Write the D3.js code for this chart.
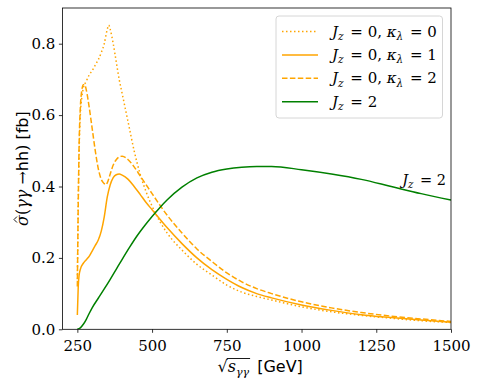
<!DOCTYPE html>
<html>
<head>
<meta charset="utf-8">
<script src="https://cdn.jsdelivr.net/npm/d3@7"></script>
<style>
  html, body { margin: 0; padding: 0; background: #fff; }
  svg { display: block; }
</style>
</head>
<body>
<div id="chart"></div>
<script>
// sqrt(s) grid [GeV] and cross sections [fb]
const sK0 = [250, 253, 256, 260, 265, 270, 280, 290, 300, 310, 320, 330, 340, 350, 355, 360, 370, 380, 390, 400, 420, 440, 460, 480, 500, 550, 600, 650, 700, 750, 800, 850, 900, 1000, 1100, 1200, 1300, 1400, 1500];
const sigK0 = [0.14, 0.35, 0.50, 0.60, 0.65, 0.675, 0.695, 0.713, 0.725, 0.74, 0.755, 0.775, 0.80, 0.84, 0.852, 0.84, 0.80, 0.75, 0.70, 0.66, 0.58, 0.50, 0.435, 0.385, 0.345, 0.27, 0.222, 0.182, 0.152, 0.124, 0.104, 0.092, 0.082, 0.063, 0.049, 0.039, 0.031, 0.024, 0.019];

const sK1 = [250, 253, 256, 260, 270, 280, 290, 300, 310, 320, 330, 340, 350, 360, 370, 380, 390, 400, 420, 440, 460, 480, 500, 550, 600, 650, 700, 750, 800, 850, 900, 1000, 1100, 1200, 1300, 1400, 1500];
const sigK1 = [0.04, 0.12, 0.152, 0.168, 0.185, 0.195, 0.205, 0.22, 0.235, 0.25, 0.275, 0.315, 0.37, 0.405, 0.425, 0.433, 0.435, 0.432, 0.42, 0.40, 0.378, 0.355, 0.335, 0.285, 0.24, 0.2, 0.167, 0.14, 0.117, 0.1, 0.088, 0.068, 0.053, 0.041, 0.033, 0.026, 0.02];

const sK2 = [250, 253, 256, 260, 265, 270, 275, 280, 290, 300, 310, 320, 330, 340, 345, 350, 360, 370, 380, 390, 400, 420, 440, 460, 480, 500, 550, 600, 650, 700, 750, 800, 850, 900, 1000, 1100, 1200, 1300, 1400, 1500];
const sigK2 = [0.12, 0.35, 0.52, 0.62, 0.67, 0.685, 0.685, 0.67, 0.62, 0.56, 0.50, 0.45, 0.42, 0.408, 0.405, 0.41, 0.435, 0.46, 0.475, 0.483, 0.485, 0.475, 0.455, 0.43, 0.405, 0.38, 0.32, 0.27, 0.225, 0.19, 0.158, 0.133, 0.114, 0.1, 0.077, 0.06, 0.047, 0.037, 0.029, 0.022];

const sJ2 = [250, 260, 270, 280, 290, 300, 320, 340, 360, 380, 400, 425, 450, 475, 500, 525, 550, 600, 650, 700, 750, 800, 850, 900, 1000, 1100, 1200, 1300, 1400, 1500];
const sigJ2 = [0.0, 0.004, 0.014, 0.028, 0.045, 0.061, 0.087, 0.113, 0.14, 0.168, 0.196, 0.23, 0.262, 0.29, 0.316, 0.34, 0.362, 0.398, 0.424, 0.44, 0.449, 0.454, 0.456, 0.456, 0.447, 0.435, 0.42, 0.40, 0.38, 0.362];

const xTicks = [250, 500, 750, 1000, 1250, 1500];
const yTicks = [0.0, 0.2, 0.4, 0.6, 0.8];

const series = [
  { s: sK0, v: sigK0, color: '#ffa500', dash: '1.5,2.5', lab: ['0', '0'] },
  { s: sK1, v: sigK1, color: '#ffa500', dash: null, lab: ['0', '1'] },
  { s: sK2, v: sigK2, color: '#ffa500', dash: '5.5,2.4', lab: ['0', '2'] },
  { s: sJ2, v: sigJ2, color: '#008000', dash: null, lab: null }
];

const SERIF = 'DejaVu Serif';
const SANS = 'DejaVu Sans';

const W = 478, H = 388;
const pL = 62.4, pR = 451, pT = 8, pB = 329.3;

const svg = d3.select('#chart').append('svg')
  .attr('width', W).attr('height', H);

const x = d3.scaleLinear().domain([200, 1500]).range([pL, pR]);
const y = d3.scaleLinear().domain([0, 0.9]).range([pB, pT]);

// clip to plot area
svg.append('clipPath').attr('id', 'clip')
  .append('rect').attr('x', pL).attr('y', pT)
  .attr('width', pR - pL).attr('height', pB - pT);

const line = d3.line()
  .x(d => x(d[0]))
  .y(d => y(d[1]))
  .curve(d3.curveMonotoneX);

const g = svg.append('g').attr('clip-path', 'url(#clip)');
series.forEach(sr => {
  g.append('path')
    .datum(sr.s.map((s, i) => [s, sr.v[i]]))
    .attr('d', line)
    .attr('fill', 'none')
    .attr('stroke', sr.color)
    .attr('stroke-width', 1.5)
    .attr('stroke-dasharray', sr.dash);
});

// axes
const xAxis = svg.append('g').attr('transform', `translate(0,${pB})`)
  .call(d3.axisBottom(x).tickValues(xTicks).tickSize(3.5).tickPadding(4).tickFormat(d3.format('d')));
const yAxis = svg.append('g').attr('transform', `translate(${pL},0)`)
  .call(d3.axisLeft(y).tickValues(yTicks).tickSize(3.5).tickPadding(3.5).tickFormat(d3.format('.1f')));
[xAxis, yAxis].forEach(a => {
  a.select('.domain').remove();
  a.selectAll('line').attr('stroke', '#000').attr('stroke-width', 0.8);
  a.selectAll('text').attr('fill', '#000')
    .style('font-family', SERIF).style('font-size', '15px');
});
xAxis.selectAll('text').attr('dy', '0.95em');

// frame
svg.append('rect')
  .attr('x', pL).attr('y', pT)
  .attr('width', pR - pL).attr('height', pB - pT)
  .attr('fill', 'none').attr('stroke', '#000').attr('stroke-width', 0.8);

// helper to write J_z = a, kappa_lambda = b
function mathLabel(sel, lab, fs) {
  sel.append('tspan').attr('font-style', 'italic').text('J');
  sel.append('tspan').attr('font-style', 'italic').style('font-size', (fs * 0.7) + 'px')
    .attr('dy', fs * 0.22).text('z');
  if (lab) {
    sel.append('tspan').attr('dy', -fs * 0.22).attr('dx', 2).text(' = ' + lab[0] + ', ');
    sel.append('tspan').attr('font-style', 'italic').text('κ');
    sel.append('tspan').attr('font-style', 'italic').style('font-size', (fs * 0.7) + 'px')
      .attr('dy', fs * 0.22).text('λ');
    sel.append('tspan').attr('dy', -fs * 0.22).attr('dx', 2).text(' = ' + lab[1]);
  } else {
    sel.append('tspan').attr('dy', -fs * 0.22).attr('dx', 2).text(' = 2');
  }
}

// legend
const lg = svg.append('g');
lg.append('rect')
  .attr('x', 276).attr('y', 16).attr('width', 166.5).attr('height', 102)
  .attr('rx', 3).attr('fill', '#fff').attr('fill-opacity', 0.8)
  .attr('stroke', '#d6d6d6').attr('stroke-width', 1);
series.forEach((sr, i) => {
  const yy = 31.5 + i * 23.4;
  lg.append('line')
    .attr('x1', 282).attr('x2', 318).attr('y1', yy).attr('y2', yy)
    .attr('stroke', sr.color).attr('stroke-width', 1.5)
    .attr('stroke-dasharray', sr.dash);
  const t = lg.append('text')
    .style('font-family', SERIF).style('font-size', '15px')
    .attr('x', 332).attr('y', yy + 5).attr('fill', '#000');
  mathLabel(t, sr.lab ? sr.lab : null, 15);
});

// in-plot label for J_z = 2
const jl = svg.append('text')
  .style('font-family', SERIF).style('font-size', '14.5px')
  .attr('x', 446).attr('y', y(0.405)).attr('text-anchor', 'end').attr('fill', '#000');
mathLabel(jl, null, 14.5);

// x label: sqrt(s_gg) [GeV]
const xl = svg.append('text').attr('y', 372)
  .style('font-family', SERIF).style('font-size', '16px').attr('fill', '#000');
xl.append('tspan').text('√');
xl.append('tspan').attr('font-style', 'italic').text('s');
xl.append('tspan').attr('font-style', 'italic')
  .style('font-size', '11px').attr('dy', 3.5).text('γγ');
xl.append('tspan').style('font-family', SANS).attr('dy', -3.5).attr('dx', 3).text(' [GeV]');
const xlw = xl.node().getComputedTextLength();
const x0 = (pL + pR) / 2 - xlw / 2 + 2;
xl.attr('x', x0);
// overline of the radical
const rootW = xl.node().getSubStringLength(0, 1);
const radW = xl.node().getSubStringLength(1, 3);
svg.append('line')
  .attr('x1', x0 + rootW - 1).attr('x2', x0 + rootW + radW + 1)
  .attr('y1', 358.5).attr('y2', 358.5)
  .attr('stroke', '#000').attr('stroke-width', 0.9);

// y label (rotated), hat over sigma drawn by hand
const yg = svg.append('g')
  .attr('transform', `translate(28,${(pT + pB) / 2}) rotate(-90)`);
const yl = yg.append('text')
  .attr('text-anchor', 'middle')
  .style('font-family', SERIF).style('font-size', '16px').attr('fill', '#000');
yl.append('tspan').attr('font-style', 'italic').text('σ');
yl.append('tspan').text('(');
yl.append('tspan').attr('font-style', 'italic').text('γγ');
yl.append('tspan').text(' →');
yl.append('tspan').style('font-family', SANS).text('hh');
yl.append('tspan').text(')');
yl.append('tspan').style('font-family', SANS).text(' [fb]');
const ylw = yl.node().getComputedTextLength();
const sigW = yl.node().getSubStringLength(0, 1);
const hx = -ylw / 2 + sigW / 2 + 1;
yg.append('path')
  .attr('d', `M${hx - 3},-11 L${hx},-14 L${hx + 3},-11`)
  .attr('fill', 'none').attr('stroke', '#000').attr('stroke-width', 0.9);
</script>
</body>
</html>
